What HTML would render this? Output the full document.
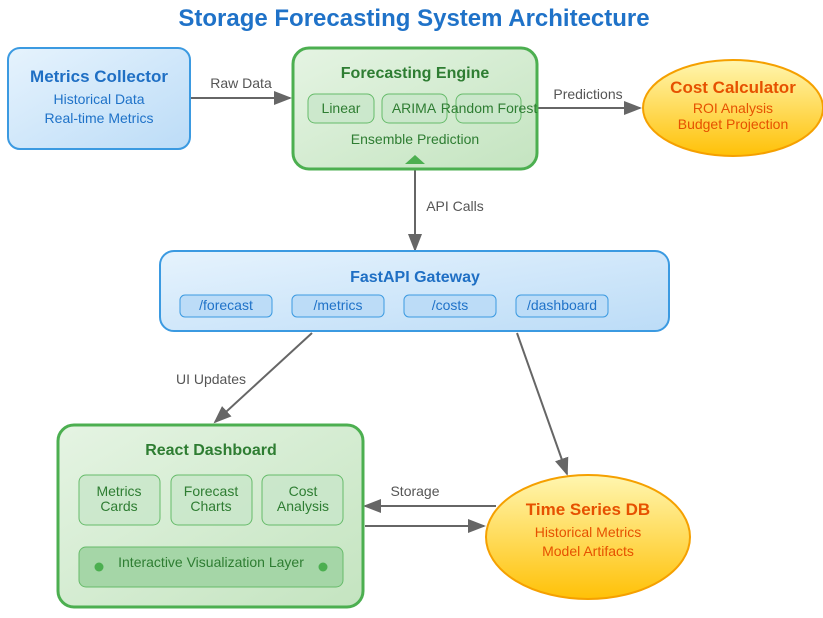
<!DOCTYPE html>
<html><head><meta charset="utf-8"><style>body{margin:0;background:#fff}svg{display:block}text{font-family:"Liberation Sans",Arial,sans-serif}</style></head><body>
<svg width="823" height="618" viewBox="0 0 823 618" xmlns="http://www.w3.org/2000/svg">
<defs>
<linearGradient id="gb" x1="0" y1="0" x2="1" y2="1"><stop offset="0" stop-color="#e6f3fd"/><stop offset="1" stop-color="#bcdcf7"/></linearGradient>
<linearGradient id="gg" x1="0" y1="0" x2="1" y2="1"><stop offset="0" stop-color="#e5f4e3"/><stop offset="1" stop-color="#c4e4c0"/></linearGradient>
<linearGradient id="gy" x1="0" y1="0" x2="0" y2="1"><stop offset="0" stop-color="#fff6b0"/><stop offset="1" stop-color="#ffc107"/></linearGradient>
<marker id="ar" markerWidth="10" markerHeight="10" refX="9" refY="5" orient="auto" markerUnits="userSpaceOnUse"><path d="M0,0 L10,5 L0,10 z" fill="#666"/></marker>
<marker id="ar2" markerWidth="18" markerHeight="14" refX="16" refY="7" orient="auto" markerUnits="userSpaceOnUse"><path d="M0,0 L18,7 L0,14 z" fill="#666"/></marker>
</defs>
<text x="414" y="26" text-anchor="middle" font-size="24" font-weight="bold" fill="#1f72c8">Storage Forecasting System Architecture</text>

<g stroke="#666" stroke-width="2" fill="none">
<line x1="190" y1="98" x2="290" y2="98" marker-end="url(#ar2)"/>
<line x1="521" y1="108" x2="640" y2="108" marker-end="url(#ar2)"/>
<line x1="415" y1="170" x2="415" y2="250" marker-end="url(#ar2)"/>
<line x1="312" y1="333" x2="215" y2="422" marker-end="url(#ar2)"/>
<line x1="517" y1="333" x2="567" y2="474" marker-end="url(#ar2)"/>
<line x1="496" y1="506" x2="365" y2="506" marker-end="url(#ar2)"/>
<line x1="365" y1="526" x2="484" y2="526" marker-end="url(#ar2)"/>
</g>
<g font-size="14" fill="#555" text-anchor="middle">
<text x="241" y="88">Raw Data</text>
<text x="588" y="99">Predictions</text>
<text x="455" y="211">API Calls</text>
<text x="211" y="384">UI Updates</text>
<text x="415" y="496">Storage</text>
</g>

<rect x="8" y="48" width="182" height="101" rx="12" fill="url(#gb)" stroke="#3b9ae1" stroke-width="2"/>
<text x="99" y="82" text-anchor="middle" font-size="17" font-weight="bold" fill="#1f6fc4">Metrics Collector</text>
<text x="99" y="104" text-anchor="middle" font-size="14" fill="#1f72c8">Historical Data</text>
<text x="99" y="123" text-anchor="middle" font-size="14" fill="#1f72c8">Real-time Metrics</text>

<rect x="293" y="48" width="244" height="121" rx="16" fill="url(#gg)" stroke="#4caf50" stroke-width="3"/>
<text x="415" y="78" text-anchor="middle" font-size="16" font-weight="bold" fill="#2e7d32">Forecasting Engine</text>
<g fill="#c8e6c9" stroke="#66bb6a" stroke-width="1" fill-opacity="0.8">
<rect x="308" y="94" width="66" height="29" rx="7"/><rect x="382" y="94" width="65" height="29" rx="7"/><rect x="456" y="94" width="65" height="29" rx="7"/>
</g>
<g font-size="14" fill="#2e7d32" text-anchor="middle">
<text x="341" y="113">Linear</text><text x="414" y="113">ARIMA</text><text x="489" y="113">Random Forest</text>
<text x="415" y="144">Ensemble Prediction</text>
</g>
<path d="M405,164 L415,155 L425,164 z" fill="#4caf50"/>

<ellipse cx="733" cy="108" rx="90" ry="48" fill="url(#gy)" stroke="#f5a000" stroke-width="2"/>
<text x="733" y="93" text-anchor="middle" font-size="17" font-weight="bold" fill="#e65100">Cost Calculator</text>
<text x="733" y="113" text-anchor="middle" font-size="14" fill="#e65100">ROI Analysis</text>
<text x="733" y="129" text-anchor="middle" font-size="14" fill="#e65100">Budget Projection</text>

<rect x="160" y="251" width="509" height="80" rx="14" fill="url(#gb)" stroke="#3b9ae1" stroke-width="2"/>
<text x="415" y="282" text-anchor="middle" font-size="16" font-weight="bold" fill="#1f6fc4">FastAPI Gateway</text>
<g fill="#bcdcf7" stroke="#3b9ae1" stroke-width="1">
<rect x="180" y="295" width="92" height="22" rx="5"/><rect x="292" y="295" width="92" height="22" rx="5"/><rect x="404" y="295" width="92" height="22" rx="5"/><rect x="516" y="295" width="92" height="22" rx="5"/>
</g>
<g font-size="14" fill="#1f72c8" text-anchor="middle">
<text x="226" y="310">/forecast</text><text x="338" y="310">/metrics</text><text x="450" y="310">/costs</text><text x="562" y="310">/dashboard</text>
</g>

<rect x="58" y="425" width="305" height="182" rx="16" fill="url(#gg)" stroke="#4caf50" stroke-width="3"/>
<text x="211" y="455" text-anchor="middle" font-size="16" font-weight="bold" fill="#2e7d32">React Dashboard</text>
<g fill="#c8e6c9" stroke="#66bb6a" stroke-width="1" fill-opacity="0.8">
<rect x="79" y="475" width="81" height="50" rx="7"/><rect x="171" y="475" width="81" height="50" rx="7"/><rect x="262" y="475" width="81" height="50" rx="7"/>
</g>
<rect x="79" y="547" width="264" height="40" rx="7" fill="#a5d6a7" stroke="#66bb6a" stroke-width="1"/>
<g font-size="14" fill="#2e7d32" text-anchor="middle">
<text x="119" y="496">Metrics</text><text x="119" y="511">Cards</text>
<text x="211" y="496">Forecast</text><text x="211" y="511">Charts</text>
<text x="303" y="496">Cost</text><text x="303" y="511">Analysis</text>
<text x="211" y="567">Interactive Visualization Layer</text>
</g>
<circle cx="99" cy="567" r="4.5" fill="#4caf50"/><circle cx="323" cy="567" r="4.5" fill="#4caf50"/>

<ellipse cx="588" cy="537" rx="102" ry="62" fill="url(#gy)" stroke="#f5a000" stroke-width="2"/>
<text x="588" y="515" text-anchor="middle" font-size="17" font-weight="bold" fill="#e65100">Time Series DB</text>
<text x="588" y="537" text-anchor="middle" font-size="14" fill="#e65100">Historical Metrics</text>
<text x="588" y="556" text-anchor="middle" font-size="14" fill="#e65100">Model Artifacts</text>
</svg>
</body></html>
